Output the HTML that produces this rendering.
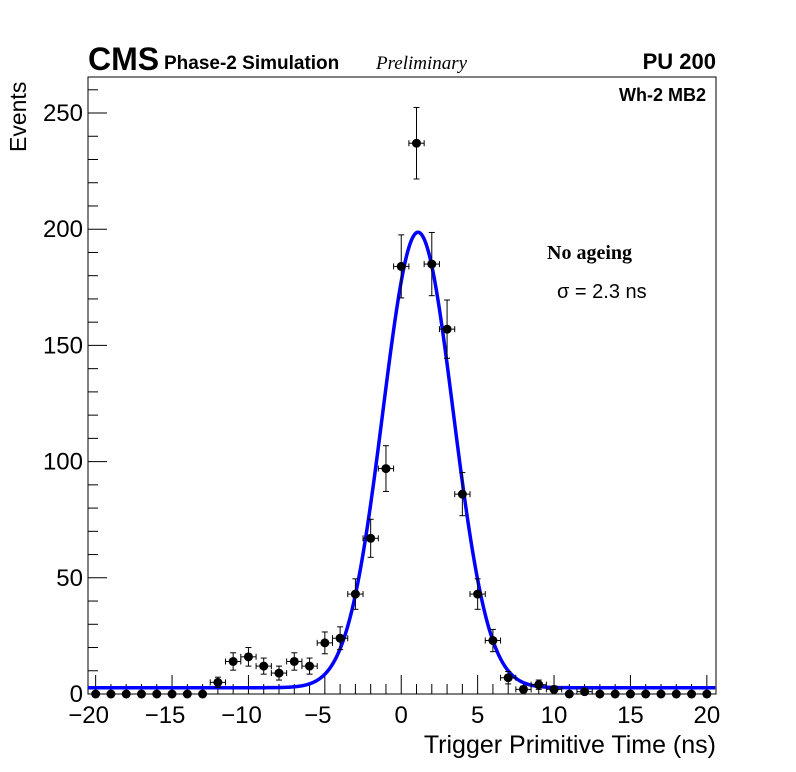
<!DOCTYPE html>
<html><head><meta charset="utf-8"><style>
body{margin:0;background:#fff;}
svg{display:block;font-family:"Liberation Sans",sans-serif;}
</style></head><body>
<svg id="chart" width="796" height="772" viewBox="0 0 796 772">
<rect width="796" height="772" fill="#fff"/>
<g id="axes"></g>
<g id="data"></g>
<text x="88" y="70" font-size="32" font-weight="bold">CMS</text>
<text x="164" y="69" font-size="19" font-weight="bold">Phase-2 Simulation</text>
<text x="376" y="69" font-size="19" font-style="italic" font-family="Liberation Serif, serif">Preliminary</text>
<text x="716" y="69" font-size="22" font-weight="bold" text-anchor="end">PU 200</text>
<text x="706" y="101" font-size="18" font-weight="bold" text-anchor="end">Wh-2 MB2</text>
<text x="547" y="259" font-size="20" font-weight="bold" font-family="Liberation Serif, serif">No ageing</text>
<text x="557" y="298" font-size="20">σ = 2.3 ns</text>
<text x="716" y="753" font-size="25" text-anchor="end">Trigger Primitive Time (ns)</text>
<text transform="translate(26,152) rotate(-90)" font-size="23">Events</text>
</svg>
<script>
const binCenters=[-20,-19,-18,-17,-16,-15,-14,-13,-12,-11,-10,-9,-8,-7,-6,-5,-4,-3,-2,-1,0,1,2,3,4,5,6,7,8,9,10,11,12,13,14,15,16,17,18,19,20];
const counts=[0,0,0,0,0,0,0,0,5,14,16,12,9,14,12,22,24,43,67,97,184,237,185,157,86,43,23,7,2,4,2,0,1,0,0,0,0,0,0,0,0];
const xTicks=[-20,-15,-10,-5,0,5,10,15,20];
const yTicks=[0,50,100,150,200,250];
const fitMean=1.1, fitSigma=2.3, fitAmp=196, fitConst=2.7;
const NS="http://www.w3.org/2000/svg";
const X0=88,X1=716,Y0=694,Y1=77, xmin=-20.5,xmax=20.6,ymin=0,ymax=265.5;
const sx=v=>X0+(v-xmin)/(xmax-xmin)*(X1-X0);
const sy=v=>Y0-(v-ymin)/(ymax-ymin)*(Y0-Y1);
function mk(tag,at,parent){const e=document.createElementNS(NS,tag);for(const k in at)e.setAttribute(k,at[k]);parent.appendChild(e);return e;}
const ax=document.getElementById('axes'), dg=document.getElementById('data');
const frame=mk('rect',{x:X0,y:Y1,width:X1-X0,height:Y0-Y1,fill:'none',stroke:'#000','stroke-width':1},ax);


for(let v=-20;v<=20;v++){const maj=v%5===0;const t=mk('line',{x1:sx(v),x2:sx(v),y1:Y0,y2:Y0-(maj?19:10),stroke:'#000'},ax);

}
for(let v=0;v<=260;v+=10){const maj=v%50===0;const t=mk('line',{x1:X0,x2:X0+(maj?19:10),y1:sy(v),y2:sy(v),stroke:'#000'},ax);

}
xTicks.forEach(v=>{const t=mk('text',{x:sx(v)-(v<0?7:0),y:723,'font-size':24,'text-anchor':'middle'},ax);t.textContent=v<0?'\u2212'+(-v):String(v);

});
yTicks.forEach(v=>{const t=mk('text',{x:83,y:sy(v)+8,'font-size':24,'text-anchor':'end'},ax);t.textContent=String(v);

});
let d='';for(let x=xmin;x<=xmax;x+=0.05){const y=fitConst+fitAmp*Math.exp(-0.5*Math.pow((x-fitMean)/fitSigma,2));d+=(d?'L':'M')+sx(x).toFixed(2)+','+sy(y).toFixed(2);}
const fit=mk('path',{d:d,fill:'none',stroke:'#0000ff','stroke-width':3.5},dg);


binCenters.forEach((c,i)=>{const n=counts[i];const g=mk('g',{},dg);


if(n>0){const e=Math.sqrt(n);
mk('line',{x1:sx(c-0.5),x2:sx(c+0.5),y1:sy(n),y2:sy(n),stroke:'#000'},g);
mk('line',{x1:sx(c),x2:sx(c),y1:sy(n+e),y2:sy(Math.max(0,n-e)),stroke:'#000'},g);
mk('line',{x1:sx(c)-3,x2:sx(c)+3,y1:sy(n+e),y2:sy(n+e),stroke:'#000'},g);
mk('line',{x1:sx(c)-3,x2:sx(c)+3,y1:sy(Math.max(0,n-e)),y2:sy(Math.max(0,n-e)),stroke:'#000'},g);
mk('line',{x1:sx(c-0.5),x2:sx(c-0.5),y1:sy(n)-3,y2:sy(n)+3,stroke:'#000'},g);
mk('line',{x1:sx(c+0.5),x2:sx(c+0.5),y1:sy(n)-3,y2:sy(n)+3,stroke:'#000'},g);}
mk('circle',{cx:sx(c),cy:sy(n),r:4.5,fill:'#000'},g);});
</script>
</body></html>
